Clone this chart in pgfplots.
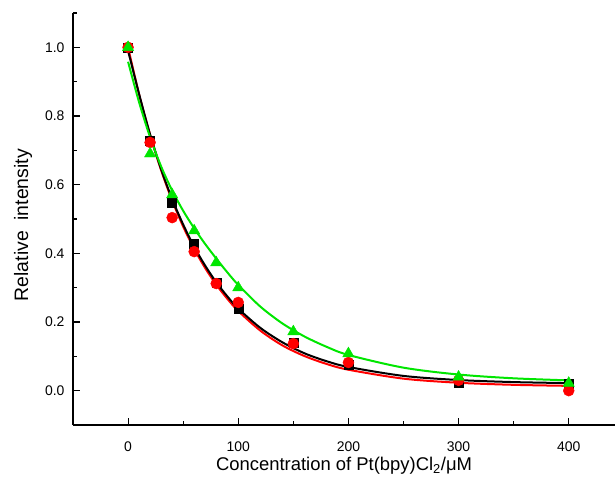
\documentclass[border=0pt]{standalone}
\usepackage{fontspec}
\setmainfont{Liberation Sans}
\usepackage{pgfplots}
\pgfplotsset{compat=1.18}
\definecolor{fitgreen}{RGB}{0,230,0}
\definecolor{ptred}{RGB}{255,0,0}
\begin{document}
\begin{tikzpicture}
\begin{axis}[
  name=ax,
  scale only axis,
  width=542bp, height=412bp,
  xmin=-50, xmax=442, ymin=-0.1, ymax=1.1,
  axis lines*=left,
  axis line style={line width=1.3bp, black},
  tick align=inside,
  major tick length=7bp, minor tick length=4bp,
  every tick/.style={black, line width=1.1bp},
  xtick={0,100,200,300,400},
  minor xtick={50,150,250,350},
  ytick={0,0.2,0.4,0.6,0.8,1.0},
  minor ytick={0.1,0.3,0.5,0.7,0.9,1.1},
  /pgf/number format/assume math mode=true,
  ticklabel style={font=\fontsize{14}{16}\selectfont},
  xticklabel style={yshift=-13bp},
  yticklabel style={xshift=-5bp, /pgf/number format/fixed, /pgf/number format/fixed zerofill, /pgf/number format/precision=1},
  label style={font=\fontsize{18.5}{21}\selectfont},
  xlabel={Concentration of Pt(bpy)Cl\textsubscript{2}/μM},
  xlabel style={at={(axis description cs:0.5,-0.0995)}, anchor=center},
  ylabel={\fontsize{19.5}{22}\selectfont Relative\ \ intensity},
  ylabel style={at={(axis description cs:-0.092,0.485)}, anchor=center},
  clip=false,
]
% red fit
\addplot[ptred, line width=2bp, smooth, no marks] coordinates {
(0,1.000) (10,0.863) (20,0.745) (30,0.642) (40,0.554) (50,0.478) (60,0.413) (70,0.357) (80,0.309) (90,0.268) (100,0.232) (120,0.175) (140,0.132) (160,0.101) (180,0.078) (200,0.061) (250,0.035) (300,0.023) (350,0.017) (400,0.014)};
% black fit
\addplot[black, line width=2bp, smooth, no marks] coordinates {
(0,0.990) (10,0.864) (20,0.746) (30,0.645) (40,0.558) (50,0.484) (60,0.419) (70,0.364) (80,0.316) (90,0.275) (100,0.239) (120,0.183) (140,0.141) (160,0.109) (180,0.086) (200,0.069) (250,0.043) (300,0.031) (350,0.025) (400,0.022)};
% green fit
\addplot[fitgreen, line width=2bp, smooth, no marks] coordinates {
(0,0.958) (10,0.840) (20,0.738) (30,0.653) (40,0.583) (50,0.524) (60,0.473) (70,0.427) (80,0.385) (90,0.345) (100,0.308) (120,0.245) (140,0.196) (160,0.158) (180,0.128) (200,0.104) (250,0.067) (300,0.047) (350,0.036) (400,0.030)};
% black squares
\addplot[only marks, mark=square*, mark size=4.5bp, black] coordinates {
(0,1.0) (20,0.727) (40,0.548) (60,0.429) (80,0.315) (100,0.239) (150,0.14) (200,0.075) (300,0.023) (400,0.02)};
% red circles
\addplot[only marks, mark=*, mark size=5.5bp, ptred, mark options={draw=ptred, fill=ptred}] coordinates {
(0,1.0) (20,0.723) (40,0.504) (60,0.405) (80,0.312) (100,0.257) (150,0.137) (200,0.082) (300,0.03) (400,0.0)};
% green triangles
\addplot[only marks, mark=triangle*, mark size=6.5bp, fitgreen, mark options={draw=fitgreen, fill=fitgreen}] coordinates {
(0,1.0) (20,0.69) (40,0.571) (60,0.466) (80,0.373) (100,0.30) (150,0.172) (200,0.108) (300,0.04) (400,0.022)};
\end{axis}
\pgfresetboundingbox
\path[use as bounding box] (ax.south west) ++(-73bp,-57bp) rectangle ++(615bp,482bp);
\end{tikzpicture}
\end{document}
